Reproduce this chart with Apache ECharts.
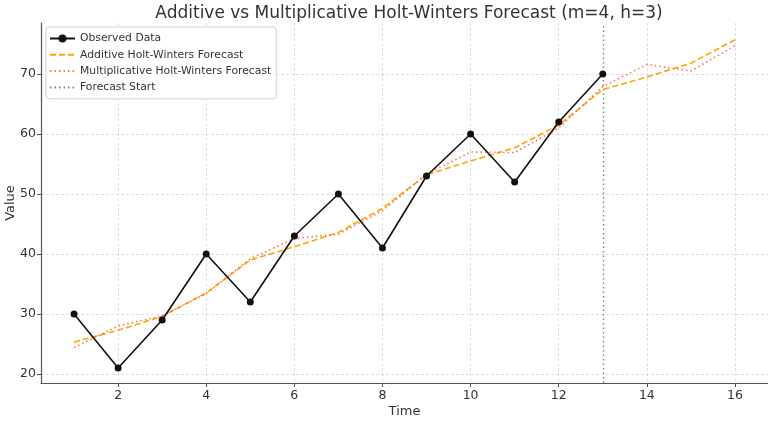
<!DOCTYPE html>
<html>
<head>
<meta charset="utf-8">
<script src="https://cdn.jsdelivr.net/npm/echarts@6/dist/echarts.min.js"></script>
<style>
html,body{margin:0;padding:0;background:#fff;}
#c{width:768px;height:423px;}
</style>
</head>
<body>
<div id="c"></div>
<script>
const timeObs = [1,2,3,4,5,6,7,8,9,10,11,12,13];
const observed = [30,21,29,40,32,43,50,41,53,60,52,62,70];
const timeAll = [1,2,3,4,5,6,7,8,9,10,11,12,13,14,15,16];
const additive = [25.3,27.3,29.6,33.5,39.0,41.2,43.6,47.6,53.2,55.5,57.7,61.5,67.4,69.5,71.8,75.7];
const multiplicative = [24.4,28.0,29.7,33.4,39.2,42.6,43.3,47.2,53.3,57.0,56.9,61.0,67.9,71.6,70.5,74.7];
const forecastStart = 13;
const xTicks = [2,4,6,8,10,12,14,16];
const yTicks = [20,30,40,50,60,70];

const font = 'DejaVu Sans';
const zip = (xs, ys) => xs.map((x, i) => [x, ys[i]]);
const noMarker = {opacity: 0};

const chart = echarts.init(document.getElementById('c'), null, {renderer: 'canvas'});
chart.setOption({
  animation: false,
  backgroundColor: '#fff',
  textStyle: {fontFamily: font},
  title: {
    text: 'Additive vs Multiplicative Holt-Winters Forecast (m=4, h=3)',
    left: 404, top: 0, textAlign: 'center',
    textStyle: {fontFamily: font, fontSize: 17, fontWeight: 'normal', color: '#333'}
  },
  grid: {left: 41, right: 0, top: 23, bottom: 40, containLabel: false, outerBoundsMode: 'none'},
  legend: {
    orient: 'vertical', left: 46, top: 27,
    itemWidth: 25, itemHeight: 10, itemGap: 5.3,
    padding: [6, 5, 6, 3],
    backgroundColor: '#fff', borderColor: '#d0d0d0', borderWidth: 1, borderRadius: 3,
    textStyle: {fontFamily: font, fontSize: 10.8, color: '#333'},
    data: [
      {name: 'Observed Data'},
      {name: 'Additive Holt-Winters Forecast', itemStyle: noMarker},
      {name: 'Multiplicative Holt-Winters Forecast', itemStyle: noMarker},
      {name: 'Forecast Start', itemStyle: noMarker}
    ]
  },
  xAxis: {
    type: 'value', min: 0.25, max: 16.75,
    name: 'Time', nameLocation: 'middle', nameGap: 22, nameMoveOverlap: false,
    nameTextStyle: {fontFamily: font, fontSize: 13, color: '#333'},
    axisLine: {show: true, lineStyle: {color: '#555', width: 1.2}},
    axisTick: {show: true, customValues: xTicks, length: 4, lineStyle: {color: '#555'}},
    axisLabel: {customValues: xTicks, fontFamily: font, fontSize: 12.5, color: '#333', margin: 6},
    splitLine: {show: true, lineStyle: {color: '#d5d5d5', type: [3, 2], width: 0.8}}
  },
  yAxis: {
    type: 'value', min: 18.5, max: 78.5,
    name: 'Value', nameLocation: 'middle', nameGap: 24, nameRotate: 90, nameMoveOverlap: false,
    nameTextStyle: {fontFamily: font, fontSize: 13, color: '#333'},
    axisLine: {show: true, lineStyle: {color: '#555', width: 1.2}},
    axisTick: {show: true, customValues: yTicks, length: 4, lineStyle: {color: '#555'}},
    axisLabel: {customValues: yTicks, fontFamily: font, fontSize: 12.5, color: '#333', margin: 5},
    splitLine: {show: true, lineStyle: {color: '#d5d5d5', type: [3, 2], width: 0.8}}
  },
  series: [
    {
      name: 'Observed Data', type: 'line', data: zip(timeObs, observed),
      symbol: 'circle', symbolSize: 7, showSymbol: true,
      itemStyle: {color: '#111'},
      lineStyle: {color: '#111', width: 1.6}, z: 5
    },
    {
      name: 'Additive Holt-Winters Forecast', type: 'line', data: zip(timeAll, additive),
      symbol: 'none', showSymbol: false,
      itemStyle: {color: '#FFA500'},
      lineStyle: {color: '#FFA500', width: 1.6, type: [6, 3]}, z: 3
    },
    {
      name: 'Multiplicative Holt-Winters Forecast', type: 'line', data: zip(timeAll, multiplicative),
      symbol: 'none', showSymbol: false,
      itemStyle: {color: '#FF7446'},
      lineStyle: {color: '#FF7446', width: 1.6, type: [1.5, 3]}, z: 4
    },
    {
      name: 'Forecast Start', type: 'line', data: [],
      symbol: 'none',
      itemStyle: {color: '#808080'},
      lineStyle: {color: '#808080', width: 1.4, type: [1.5, 3]},
      markLine: {
        silent: true, symbol: 'none', label: {show: false},
        lineStyle: {color: '#808080', width: 1.4, type: [1.5, 3]},
        data: [{xAxis: forecastStart}]
      }, z: 2
    }
  ]
});
</script>
</body>
</html>
